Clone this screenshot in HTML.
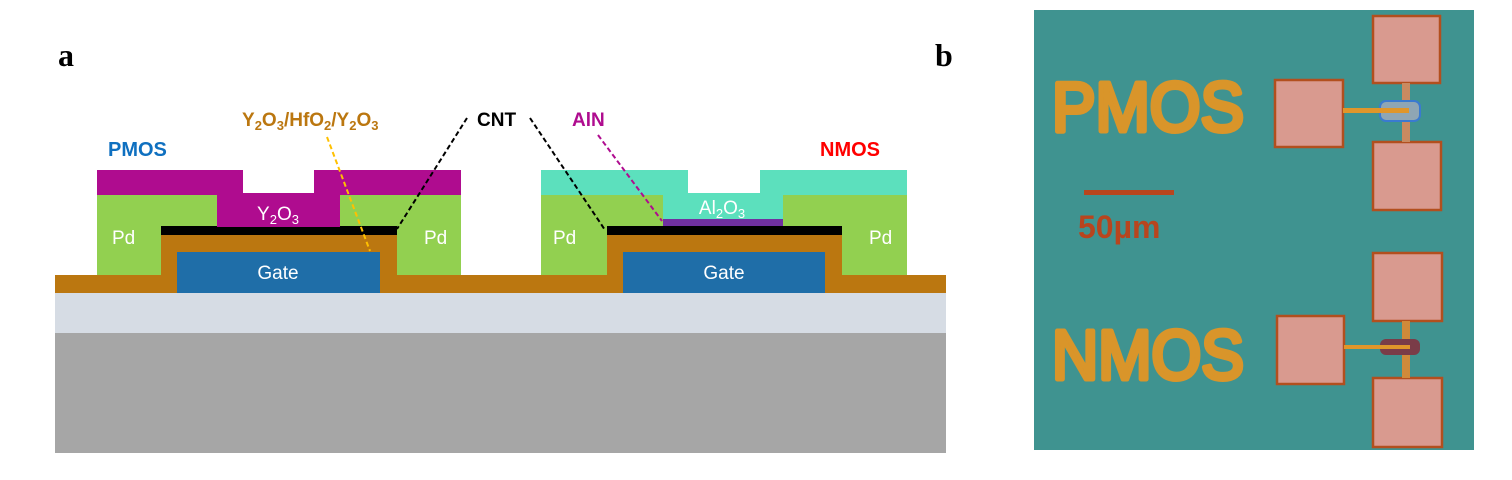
<!DOCTYPE html>
<html><head><meta charset="utf-8"><style>
html,body{margin:0;padding:0;background:#fff;width:1512px;height:480px;overflow:hidden}
text{font-family:"Liberation Sans","DejaVu Sans",sans-serif}
text.serif{font-family:"Liberation Serif","DejaVu Serif",serif}
</style></head><body>
<svg width="1512" height="480" viewBox="0 0 1512 480">
<text class="serif" x="58" y="66" font-weight="bold" font-size="32">a</text>
<text class="serif" x="935" y="66" font-weight="bold" font-size="32">b</text>
<g>
<rect x="55" y="333" width="891" height="120" fill="#a6a6a6"/>
<rect x="55" y="293" width="891" height="40" fill="#d6dce4"/>
<rect x="55" y="275" width="891" height="18" fill="#bb7710"/>
<g>
<rect x="161" y="235" width="236" height="40" fill="#bb7710"/>
<rect x="177" y="252" width="203" height="41" fill="#1f6ea8"/>
<text x="278" y="279" font-size="19" fill="#fff" text-anchor="middle">Gate</text>
<rect x="161" y="226" width="236" height="9" fill="#000"/>
<path d="M97 195H217V226H161V275H97Z" fill="#92d050"/>
<path d="M340 195H461V275H397V226H340Z" fill="#92d050"/>
<path d="M97 170H243V193H314V170H461V195H340V227H217V195H97Z" fill="#af0c8f"/>
<text x="112" y="244" font-size="19" fill="#fff">Pd</text>
<text x="424" y="244" font-size="19" fill="#fff">Pd</text>
<text x="278" y="220" font-size="19" fill="#fff" text-anchor="middle">Y<tspan font-size="13" dy="4">2</tspan><tspan dy="-4">O</tspan><tspan font-size="13" dy="4">3</tspan></text>
</g>
<g>
<rect x="607" y="235" width="235" height="40" fill="#bb7710"/>
<rect x="623" y="252" width="202" height="41" fill="#1f6ea8"/>
<text x="724" y="279" font-size="19" fill="#fff" text-anchor="middle">Gate</text>
<rect x="607" y="226" width="235" height="9" fill="#000"/>
<rect x="663" y="219" width="120" height="7" fill="#7030a0"/>
<path d="M541 195H663V226H607V275H541Z" fill="#92d050"/>
<path d="M783 195H907V275H842V226H783Z" fill="#92d050"/>
<path d="M541 170H688V193H760V170H907V195H783V219H663V195H541Z" fill="#5ce0bd"/>
<text x="553" y="244" font-size="19" fill="#fff">Pd</text>
<text x="869" y="244" font-size="19" fill="#fff">Pd</text>
<text x="722" y="214" font-size="19" fill="#fff" text-anchor="middle">Al<tspan font-size="13" dy="4">2</tspan><tspan dy="-4">O</tspan><tspan font-size="13" dy="4">3</tspan></text>
</g>
<text x="108" y="156" font-size="20" font-weight="bold" fill="#0f70c0">PMOS</text>
<text x="820" y="156" font-size="20" font-weight="bold" fill="#ff0000">NMOS</text>
<text x="242" y="126" font-size="19" font-weight="bold" fill="#bb7710">Y<tspan font-size="13" dy="4">2</tspan><tspan dy="-4">O</tspan><tspan font-size="13" dy="4">3</tspan><tspan dy="-4">/HfO</tspan><tspan font-size="13" dy="4">2</tspan><tspan dy="-4">/Y</tspan><tspan font-size="13" dy="4">2</tspan><tspan dy="-4">O</tspan><tspan font-size="13" dy="4">3</tspan></text>
<text x="477" y="126" font-size="19" font-weight="bold" fill="#000">CNT</text>
<text x="572" y="126" font-size="19" font-weight="bold" fill="#af0c8f">AlN</text>
<line x1="327" y1="137" x2="370" y2="251" stroke="#ffc000" stroke-width="2" stroke-dasharray="5,3"/>
<line x1="467" y1="118" x2="397" y2="229" stroke="#000" stroke-width="2" stroke-dasharray="5,3"/>
<line x1="530" y1="118" x2="605" y2="230" stroke="#000" stroke-width="2" stroke-dasharray="5,3"/>
<line x1="598" y1="135" x2="662" y2="221" stroke="#af0c8f" stroke-width="2" stroke-dasharray="5,3"/>
</g>
<g>
<rect x="1034" y="10" width="440" height="440" fill="#3f9390"/>
<g fill="#d99a8f" stroke="#b24f1e" stroke-width="2.5">
<rect x="1373" y="16" width="67" height="67"/>
<rect x="1275" y="80" width="68" height="67"/>
<rect x="1373" y="142" width="68" height="68"/>
<rect x="1373" y="253" width="69" height="68"/>
<rect x="1277" y="316" width="67" height="68"/>
<rect x="1373" y="378" width="69" height="69"/>
</g>
<rect x="1402" y="83" width="8" height="59" fill="#c98a60"/>
<rect x="1380" y="101" width="40" height="20" rx="6" fill="#8fa6b4" stroke="#3a7ad0" stroke-width="2"/>
<rect x="1343" y="108" width="66" height="5" fill="#e0962a"/>
<rect x="1402" y="321" width="8" height="57" fill="#d08a3a"/>
<rect x="1380" y="339" width="40" height="16" rx="6" fill="#7a3c48"/>
<rect x="1344" y="345" width="66" height="4" fill="#e0962a"/>
<text x="1052" y="131" font-size="70" fill="#d9952a" stroke="#d9952a" stroke-width="5" stroke-linejoin="round" textLength="192" lengthAdjust="spacingAndGlyphs">PMOS</text>
<text x="1052" y="379" font-size="70" fill="#d9952a" stroke="#d9952a" stroke-width="5" stroke-linejoin="round" textLength="192" lengthAdjust="spacingAndGlyphs">NMOS</text>
<rect x="1084" y="190" width="90" height="5" fill="#b8451e"/>
<text x="1078" y="238" font-size="32" font-weight="bold" fill="#b8451e">50µm</text>
</g>
</svg>
</body></html>
